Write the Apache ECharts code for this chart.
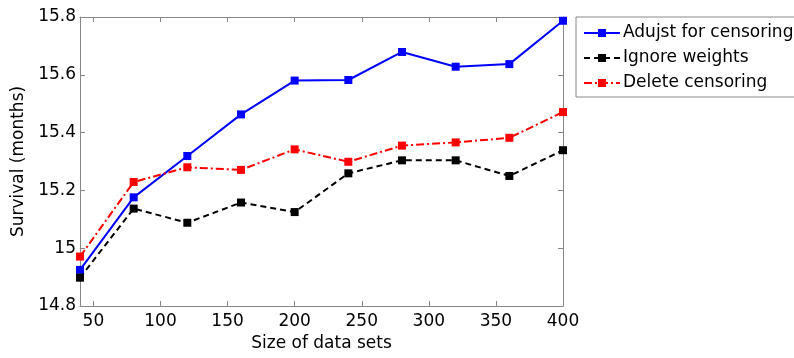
<!DOCTYPE html>
<html>
<head>
<meta charset="utf-8">
<script src="https://cdn.jsdelivr.net/npm/echarts@6/dist/echarts.min.js"></script>
<style>
  html, body { margin: 0; padding: 0; background: #fff; }
  #chart { width: 794px; height: 358px; }
</style>
</head>
<body>
<div id="chart"></div>
<script>
// data
var sizes = [40, 80, 120, 160, 200, 240, 280, 320, 360, 400]
var xTicks = [50, 100, 150, 200, 250, 300, 350, 400]
var adjust = [14.925, 15.176, 15.319, 15.463, 15.580, 15.582, 15.679, 15.628, 15.637, 15.787]
var ignore = [14.898, 15.137, 15.088, 15.158, 15.125, 15.259, 15.304, 15.304, 15.250, 15.339]
var del = [14.971, 15.229, 15.280, 15.271, 15.342, 15.299, 15.355, 15.366, 15.382, 15.471]
var seriesNames = ['Adujst for censoring', 'Ignore weights', 'Delete censoring']

function pairs(ys) {
  return sizes.map(function (x, i) { return [x, ys[i]] })
}

var axisColor = '#888'
var font = 'DejaVu Sans, sans-serif'

var chart = echarts.init(document.getElementById('chart'), null, { renderer: 'canvas' })

chart.setOption({
  animation: false,
  backgroundColor: '#fff',
  grid: { left: 80, right: 231, top: 17, bottom: 52 },
  legend: {
    orient: 'vertical',
    left: 576,
    top: 17,
    padding: [7, 8, 5, 7],
    itemGap: 7,
    itemWidth: 36,
    itemHeight: 10,
    backgroundColor: '#fff',
    borderColor: axisColor,
    borderWidth: 1,
    borderRadius: 0,
    textStyle: { color: '#000', fontSize: 17, fontFamily: font, lineHeight: 18, padding: [0, 0, 0, -2] },
    data: seriesNames
  },
  xAxis: [{
    type: 'value',
    min: 40,
    max: 400,
    name: 'Size of data sets',
    nameLocation: 'middle',
    nameGap: 26,
    nameTextStyle: { color: '#000', fontSize: 17, fontFamily: font },
    axisLine: { lineStyle: { color: axisColor } },
    axisTick: { inside: true, length: 5, customValues: xTicks, lineStyle: { color: axisColor } },
    axisLabel: { color: '#000', fontSize: 17, fontFamily: font, margin: 7, customValues: xTicks },
    splitLine: { show: false }
  }, {
    type: 'value',
    position: 'top',
    min: 40,
    max: 400,
    axisLine: { lineStyle: { color: axisColor } },
    axisTick: { inside: true, length: 5, customValues: xTicks, lineStyle: { color: axisColor } },
    axisLabel: { show: false },
    splitLine: { show: false }
  }],
  yAxis: [{
    type: 'value',
    min: 14.8,
    max: 15.8,
    interval: 0.2,
    name: 'Survival (months)',
    nameLocation: 'middle',
    nameGap: 51,
    nameTextStyle: { color: '#000', fontSize: 17, fontFamily: font },
    axisLine: { show: true, lineStyle: { color: axisColor } },
    axisTick: { show: true, inside: true, length: 5, lineStyle: { color: axisColor } },
    axisLabel: {
      color: '#000', fontSize: 17, fontFamily: font, margin: 4,
      formatter: function (v) { return parseFloat(v.toFixed(1)).toString() }
    },
    splitLine: { show: false }
  }, {
    type: 'value',
    position: 'right',
    min: 14.8,
    max: 15.8,
    interval: 0.2,
    axisLine: { show: true, lineStyle: { color: axisColor } },
    axisTick: { show: true, inside: true, length: 5, lineStyle: { color: axisColor } },
    axisLabel: { show: false },
    splitLine: { show: false }
  }],
  series: [{
    name: seriesNames[0],
    type: 'line',
    data: pairs(adjust),
    symbol: 'rect',
    symbolSize: 8,
    z: 3,
    itemStyle: { color: '#0000ff' },
    lineStyle: { color: '#0000ff', width: 2 }
  }, {
    name: seriesNames[1],
    type: 'line',
    data: pairs(ignore),
    symbol: 'rect',
    symbolSize: 8,
    itemStyle: { color: '#000' },
    lineStyle: { color: '#000', width: 2, type: [6, 4] }
  }, {
    name: seriesNames[2],
    type: 'line',
    data: pairs(del),
    symbol: 'rect',
    symbolSize: 8,
    itemStyle: { color: '#ff0000' },
    lineStyle: { color: '#ff0000', width: 2, type: [8, 3, 2, 3] }
  }]
})
</script>
</body>
</html>
